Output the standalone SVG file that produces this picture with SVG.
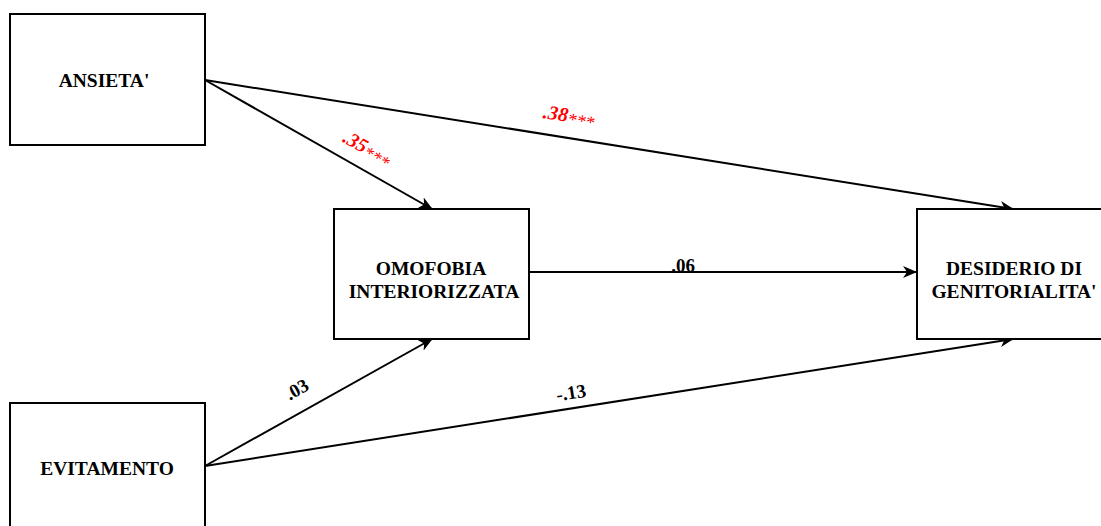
<svg xmlns="http://www.w3.org/2000/svg" width="1101" height="526" viewBox="0 0 1101 526">
<style>
.box{fill:#fff;stroke:#000;stroke-width:2}
.t{font-family:"Liberation Serif",serif;font-weight:bold;font-size:19.5px;fill:#000;text-anchor:middle}
.c{stroke:#000;stroke-width:2;fill:none;marker-end:url(#ah)}
.r{font-family:"Liberation Serif",serif;font-weight:bold;font-style:italic;font-size:20px;fill:#ff0000;text-anchor:middle}
.s{font-weight:normal;font-size:18px}
.b{font-family:"Liberation Serif",serif;font-weight:bold;font-size:19px;fill:#000;text-anchor:middle}
</style>
<defs>
<marker id="ah" markerWidth="14" markerHeight="12" refX="13" refY="6" orient="auto" markerUnits="userSpaceOnUse" viewBox="0 0 14 12">
<path d="M0,0 L14,6 L0,12 L4,6 Z" fill="#000"/>
</marker>
</defs>
<rect width="1101" height="526" fill="#fff"/>
<g id="connectors">
<line class="c" x1="205" y1="80" x2="432" y2="209"/>
<line class="c" x1="205" y1="80" x2="1013" y2="209"/>
<line class="c" x1="529" y1="272" x2="916" y2="272"/>
<line class="c" x1="205" y1="466" x2="432" y2="339"/>
<line class="c" x1="205" y1="466" x2="1013" y2="339"/>
<text class="r" transform="translate(364,154) rotate(29.6)">.35<tspan class="s" dy="3">***</tspan></text>
<text class="r" transform="translate(568,122) rotate(9)">.38<tspan class="s" dy="3">***</tspan></text>
<text class="b" x="683" y="272">.06</text>
<text class="b" transform="translate(300,395) rotate(-29.5)">.03</text>
<text class="b" transform="translate(572,399) rotate(-9)">-.13</text>
</g>
<g id="ansieta">
<rect class="box" x="10" y="14" width="195" height="131"/>
<text class="t" x="104" y="87">ANSIETA'</text>
</g>
<g id="evitamento">
<rect class="box" x="10" y="403" width="195" height="131"/>
<text class="t" x="107" y="475">EVITAMENTO</text>
</g>
<g id="omofobia">
<rect class="box" x="334" y="209" width="195" height="130"/>
<text class="t" x="431" y="275">OMOFOBIA</text>
<text class="t" x="434" y="298">INTERIORIZZATA</text>
</g>
<g id="desiderio">
<rect class="box" x="917" y="209" width="195" height="130"/>
<text class="t" x="1014" y="275">DESIDERIO DI</text>
<text class="t" x="1014" y="298">GENITORIALITA'</text>
</g>
</svg>
